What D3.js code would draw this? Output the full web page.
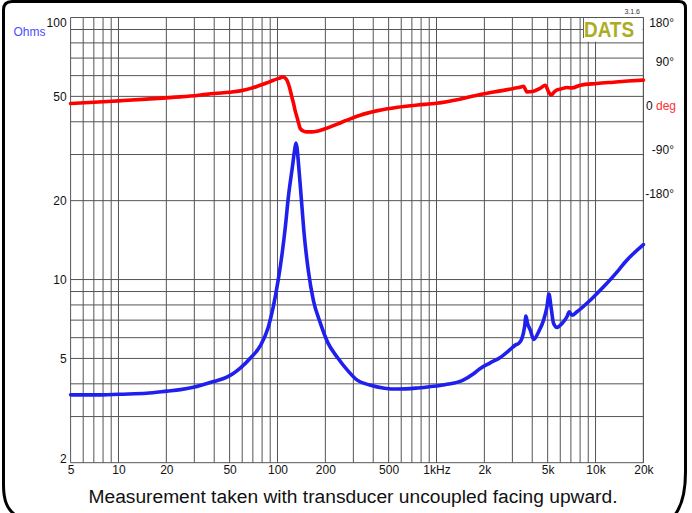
<!DOCTYPE html>
<html><head><meta charset="utf-8">
<script src="https://cdn.jsdelivr.net/npm/d3@7"></script>
<style>body{margin:0;background:#fff} svg{display:block;font-family:"Liberation Sans",Arial,sans-serif}</style>
</head><body><svg id="c" width="692" height="513"></svg>
<script>
// ---- data ----
const impFreq = [5, 6, 7, 8, 10, 15, 20.2, 24.5, 29.6, 39.6, 48, 52.7, 58.3, 67.4, 77.9, 87.5, 94, 101, 107, 112, 117, 124, 128, 130.6, 133, 135, 141, 147, 156, 168, 186, 208, 237, 275, 317, 380, 470, 570, 740, 900, 1130, 1460, 1700, 1884, 2177, 2518, 2911, 3128, 3281, 3447, 3580, 3652, 3737, 3890, 4082, 4385, 4713, 4950, 5095, 5248, 5449, 5725, 6154, 6612, 6839, 7112, 7645, 9267, 11240, 13970, 15380, 20000];
const impOhms = [3.63, 3.63, 3.63, 3.63, 3.65, 3.68, 3.75, 3.80, 3.88, 4.08, 4.24, 4.38, 4.59, 5.01, 5.58, 6.58, 7.85, 9.95, 12.6, 15.85, 20.6, 26.8, 31.0, 33.2, 31.5, 28.5, 20.6, 15.0, 10.9, 8.34, 6.82, 5.72, 5.06, 4.51, 4.13, 3.96, 3.85, 3.82, 3.85, 3.90, 3.97, 4.12, 4.36, 4.58, 4.81, 5.04, 5.41, 5.62, 5.70, 5.96, 6.60, 7.25, 6.80, 6.41, 5.91, 6.32, 7.00, 7.87, 8.80, 7.87, 6.80, 6.57, 6.80, 7.21, 7.53, 7.31, 7.53, 8.34, 9.38, 10.86, 11.67, 13.6];

const phaseFreq = [5, 7, 10, 15, 24.4, 32, 40, 50, 58.3, 68, 77.9, 86, 94.4, 102, 108.2, 111, 114.7, 117.5, 120.3, 123, 126.2, 129, 132.5, 136, 139, 146, 153.2, 165, 177, 195, 214.7, 240, 273, 331, 420, 570, 760, 1000, 1400, 1884, 2518, 3051, 3400, 3525, 3705, 4082, 4500, 4829, 5068, 5248, 5581, 6100, 6612, 7112, 8010, 10210, 12980, 16000, 20000];
const phaseDeg = [4, 6.5, 9.5, 13, 17.6, 21, 24.5, 27.2, 29.9, 35, 41.5, 46.5, 51.7, 55.5, 58.5, 57, 51.7, 43, 31.3, 18, 4.1, -10, -23.3, -37, -47, -52.5, -54, -54, -52.6, -48.5, -43.8, -37.5, -30, -19.8, -11, -3.5, 1, 4.7, 13, 22.5, 29.9, 34.8, 38, 39.5, 27.8, 29.3, 35.5, 41.5, 27.8, 21.1, 29.9, 34, 36.8, 36, 41.5, 45, 47.7, 50, 52];

const xTickValues = [5, 10, 20, 50, 100, 200, 500, 1000, 2000, 5000, 10000, 20000];
const xTickLabels = ["5", "10", "20", "50", "100", "200", "500", "1kHz", "2k", "5k", "10k", "20k"];
const yTickValues = [100, 50, 20, 10, 5, 2];
const phaseTickValues = [180, 90, 0, -90, -180];
const phaseTickLabels = ["180°", "90°", "0", "-90°", "-180°"];
const caption = "Measurement taken with transducer uncoupled facing upward.";

// ---- layout ----
const svg = d3.select("#c");
const L = 70.6, R = 643.4, T = 17.5, B = 462.7;
const x = d3.scaleLog().domain([5, 20000]).range([L, R]);
const y = d3.scaleLog().domain([2, 100]).range([B, T]);
const p = d3.scaleLinear().domain([-180, 180]).range([T + 176, T]);
const FONT = '"Liberation Sans", Arial, sans-serif';

// frame
svg.append("path")
  .attr("d", "M 14 514 C 8 509, 3.5 502, 3.5 485 L 3.5 10 Q 3.5 1.5, 12 1.5 L 679 1.5 Q 685.5 1.5, 685.5 8 L 685.5 472 C 685.5 490, 682 505, 675.5 514")
  .attr("fill", "none").attr("stroke", "#000").attr("stroke-width", 3);

// grid
const vGrid = [];
[1, 10, 100, 1000, 10000].forEach(d => { for (let m = 1; m <= 9; m++) { const v = m * d; if (v >= 5 && v <= 20000) vGrid.push(v); } });
vGrid.push(20000);
const hGrid = [];
[1, 10].forEach(d => { for (let m = 1; m <= 9; m++) { const v = m * d; if (v >= 2 && v <= 100) hGrid.push(v); } });
hGrid.push(100);

const grid = svg.append("g").attr("stroke", "#555").attr("stroke-width", 1);
grid.selectAll("line.v").data(vGrid).join("line").attr("class", "v")
  .attr("x1", d => x(d)).attr("x2", d => x(d)).attr("y1", T).attr("y2", B);
grid.selectAll("line.h").data(hGrid).join("line").attr("class", "h")
  .attr("x1", L).attr("x2", R).attr("y1", d => y(d)).attr("y2", d => y(d));

// DATS badge
svg.append("rect").attr("x", 583.5).attr("y", 18.2).attr("width", 59).attr("height", 23.5).attr("fill", "#fff");
svg.append("line").attr("x1", 583.5).attr("x2", 583.5).attr("y1", 18).attr("y2", 38).attr("stroke", "#666");
svg.append("text").attr("x", 584).attr("y", 36.5).attr("font-size", 22).attr("font-weight", "bold")
  .attr("fill", "#acac22").attr("textLength", 50).attr("lengthAdjust", "spacingAndGlyphs")
  .attr("font-family", FONT).text("DATS");
svg.append("text").attr("x", 640).attr("y", 14).attr("text-anchor", "end").attr("font-size", 7)
  .attr("fill", "#333").attr("font-family", FONT).text("3.1.6");

// curves
const line = d3.line().x(d => x(d[0])).y(d => y(d[1])).curve(d3.curveMonotoneX);
const pline = d3.line().x(d => x(d[0])).y(d => p(d[1])).curve(d3.curveMonotoneX);
svg.append("path").datum(phaseFreq.map((f, i) => [f, phaseDeg[i]]))
  .attr("d", pline).attr("fill", "none").attr("stroke", "#ff0000").attr("stroke-width", 3.6)
  .attr("stroke-linejoin", "round").attr("stroke-linecap", "round");
svg.append("path").datum(impFreq.map((f, i) => [f, impOhms[i]]))
  .attr("d", line).attr("fill", "none").attr("stroke", "#2020ee").attr("stroke-width", 3.6)
  .attr("stroke-linejoin", "round").attr("stroke-linecap", "round");

// axes
const gx = svg.append("g").attr("transform", `translate(0,${B})`)
  .call(d3.axisBottom(x).tickValues(xTickValues).tickFormat((d, i) => xTickLabels[i]).tickSize(0).tickPadding(3));
gx.select(".domain").remove();
gx.attr("font-size", 12).attr("font-family", FONT);
gx.selectAll("text").attr("fill", "#111");

const gy = svg.append("g").attr("transform", `translate(${L},0)`)
  .call(d3.axisLeft(y).tickValues(yTickValues).tickFormat(d3.format("d")).tickSize(0).tickPadding(4));
gy.select(".domain").remove();
gy.attr("font-size", 12).attr("font-family", FONT);
gy.selectAll("text").attr("fill", "#111");
gy.selectAll("text").filter(d => d === 100).attr("y", 5);
gy.selectAll("text").filter(d => d === 2).attr("y", -4.5);

const gp = svg.append("g").attr("transform", `translate(674,0)`)
  .call(d3.axisRight(p).tickValues(phaseTickValues).tickFormat((d, i) => phaseTickLabels[i]).tickSize(0).tickPadding(0));
gp.select(".domain").remove();
gp.attr("font-size", 12).attr("font-family", FONT);
gp.selectAll("text").attr("fill", "#111").attr("text-anchor", "end").attr("x", 0);
gp.selectAll("text").filter(d => d === 180).attr("y", 5);
const zeroText = gp.selectAll("text").filter(d => d === 0);
zeroText.text(null).attr("text-anchor", "start").attr("x", -28);
zeroText.append("tspan").attr("fill", "#111").text("0 ");
zeroText.append("tspan").attr("fill", "#ff3030").text("deg");

// Ohms label
svg.append("text").attr("x", 13.5).attr("y", 36).attr("font-size", 12).attr("fill", "#4c4cff")
  .attr("font-family", FONT).text("Ohms");

// caption
svg.append("text").attr("x", 353).attr("y", 503).attr("text-anchor", "middle").attr("font-size", 19.2)
  .attr("fill", "#111").attr("font-family", FONT).text(caption);
</script>
</body></html>
